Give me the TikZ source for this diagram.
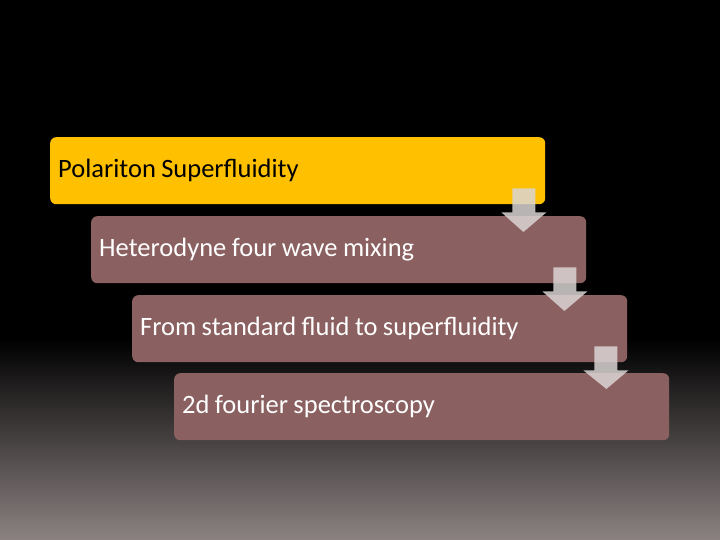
\documentclass[tikz,border=0pt]{standalone}
\usepackage{fontspec}
\setmainfont{Carlito}[WordSpace=0.9]
\usetikzlibrary{calc}

\definecolor{stepyellow}{RGB}{255,192,0}
\definecolor{stepbrown}{RGB}{139,96,96}
\definecolor{arrowgrey}{RGB}{218,212,212}
\definecolor{bottomgrey}{RGB}{140,130,130}

\tikzset{
  stepbox/.style={rectangle, rounded corners=6pt, anchor=north west,
    minimum width=495pt, minimum height=67pt, text width=479pt,
    inner xsep=8pt, align=flush left, font=\fontsize{26.5}{30}\selectfont},
  downarrow/.style={fill=arrowgrey, fill opacity=0.85, draw=none}
}

\begin{document}
\begin{tikzpicture}[x=1pt, y=-1pt]
% Background
\fill[black] (0,0) rectangle (720,340);
\shade[top color=black, bottom color=bottomgrey] (0,339) rectangle (720,540);
\useasboundingbox (0,0) rectangle (720,540);

% Steps
\node[stepbox, fill=stepyellow, text=black] (s1) at (50,137) {Polariton Superfluidity};
\node[stepbox, fill=stepbrown, text=white] (s2) at (91,216) {Heterodyne four wave mixing};
\node[stepbox, fill=stepbrown, text=white] (s3) at (132,295) {From standard fluid to superfluidity};
\node[stepbox, fill=stepbrown, text=white] (s4) at (174,373) {2d fourier spectroscopy};

% Arrows between steps
\foreach \a/\b in {s1/s2, s2/s3, s3/s4}{
  \fill[downarrow] ($(\a.south east)+(-33,-16)$) -- ($(\a.south east)+(-10,-16)$)
    -- ($(\a.south east)+(-10,8)$) -- ($(\a.south east)+(1,8)$)
    -- ($(\b.north east)+(-63,16)$) -- ($(\a.south east)+(-44,8)$)
    -- ($(\a.south east)+(-33,8)$) -- cycle;
}
\end{tikzpicture}
\end{document}
